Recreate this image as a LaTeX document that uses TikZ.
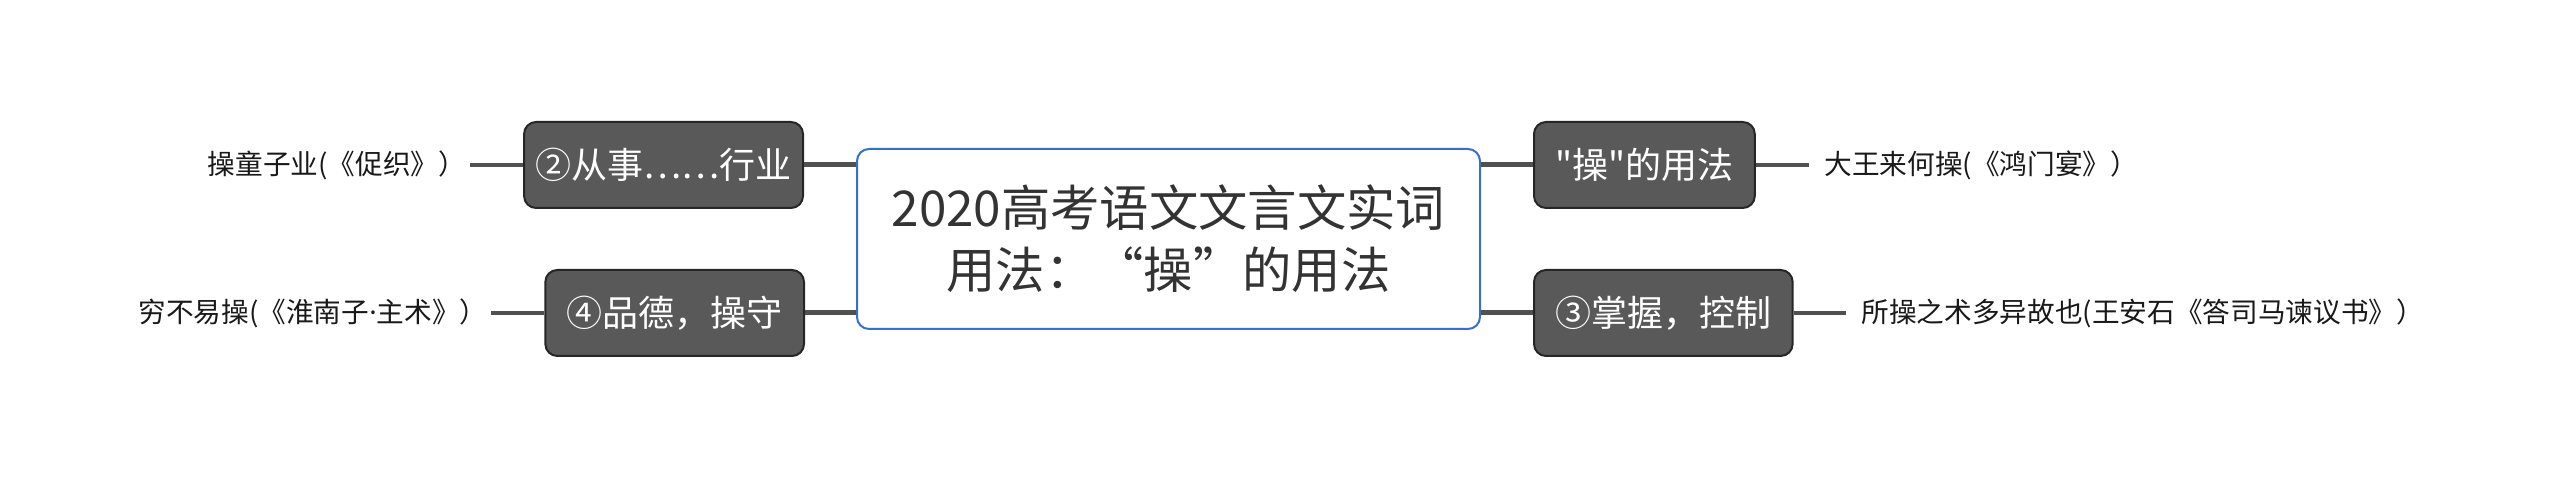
\documentclass[tikz,border=0pt]{standalone}
\usepackage{fontspec}
\newfontfamily\cjk{Noto Sans CJK SC}
\newfontfamily\latin{Noto Sans}
\usetikzlibrary{positioning}
\definecolor{topicblue}{RGB}{52,112,204}
\definecolor{branchgray}{RGB}{89,89,89}
\definecolor{linkgray}{RGB}{80,80,80}

\begin{document}
\begin{tikzpicture}[x=0.3pt, y=-0.3pt,
  root/.style={draw=topicblue, line width=0.6pt, rounded corners=3.6pt, fill=white,
    font=\cjk\fontsize{14.8}{18.6}\selectfont, text=black!80, align=center,
    minimum width=186.9pt, minimum height=54pt},
  branch/.style={draw=black!85, line width=0.6pt, rounded corners=3.6pt, fill=branchgray,
    text=white, font=\cjk\fontsize{10.8}{13}\selectfont, minimum height=25.8pt, inner xsep=6.4pt},
  leaf/.style={font=\cjk\fontsize{8.3}{10}\selectfont, text=black!90},
  link/.style={draw=linkgray, line width=1.5pt},
  twig/.style={draw=linkgray, line width=1.2pt}]

  \useasboundingbox (0,0) rectangle (2560,479);

  \node[root] (c) at (1168.5,239) {2020高考语文文言文实词\\用法：“操”的用法};

  % left branches
  \node[branch, anchor=east, inner xsep=3.4pt] (b2) at (804,165) {②从事……行业};
  \node[branch, anchor=east] (b4) at (805,313) {④品德，操守};
  % right branches
  \node[branch, anchor=west] (b1) at (1533,165) {"操"的用法};
  \node[branch, anchor=west] (b3) at (1533,313) {③掌握，控制};

  % leaves
  \node[leaf, inner xsep=1pt, left=15.9pt of b2] (l2) {操童子业(《促织》）};
  \node[leaf, inner xsep=1pt, left=15.9pt of b4] (l4) {穷不易操(《淮南子{\latin ·}主术》）};
  \node[leaf, inner xsep=4.5pt, right=15.9pt of b1] (l1) {大王来何操(《鸿门宴》）};
  \node[leaf, inner xsep=4.5pt, right=15.6pt of b3] (l3) {所操之术多异故也(王安石《答司马谏议书》）};

  \draw[link] (b2) -- (b2 -| c.west);
  \draw[link] (b4) -- (b4 -| c.west);
  \draw[link] (b1) -- (b1 -| c.east);
  \draw[link] (b3) -- (b3 -| c.east);

  \draw[twig] (l2) -- (b2);
  \draw[twig] (l4) -- (b4);
  \draw[twig] (b1) -- (l1);
  \draw[twig] (b3) -- (l3);
\end{tikzpicture}
\end{document}
